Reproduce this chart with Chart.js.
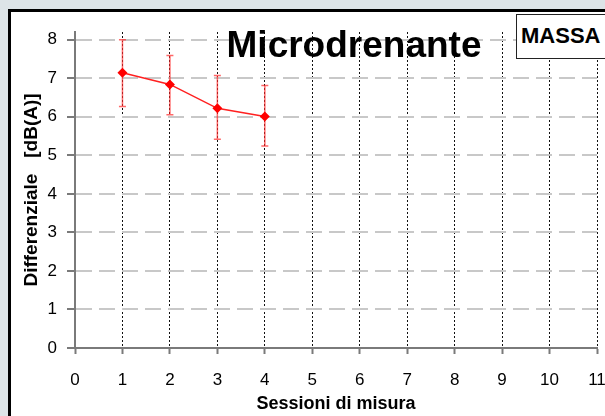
<!DOCTYPE html>
<html>
<head>
<meta charset="utf-8">
<script src="https://cdn.jsdelivr.net/npm/chart.js@4"></script>
<style>
  html, body { margin: 0; padding: 0; }
  body {
    width: 605px; height: 416px; overflow: hidden; position: relative;
    background: #dde4e7;
    font-family: 'Liberation Sans', Arial, sans-serif;
  }
  .panel {
    position: absolute; left: 8px; top: 9px; width: 700px; height: 500px;
    border: 3px solid #000; background: #fff;
  }
  #wrap { position: absolute; left: 0; top: 0; width: 605px; height: 416px; z-index: 1; }
  .titolo {
    position: absolute; left: 154px; top: 26px; width: 400px; z-index: 2;
    text-align: center; font-weight: bold; font-size: 37px; line-height: 37px; color: #000;
  }
  .massa {
    position: absolute; left: 516px; top: 14px; width: 120px; height: 43px; z-index: 2;
    border: 1px solid #222; background: #fff;
  }
  .massa span {
    position: absolute; left: 4px; top: 10px;
    font-weight: bold; font-size: 22px; line-height: 22px; color: #000;
  }
</style>
</head>
<body>
<div class="panel"></div>
<div id="wrap"><canvas id="grafico" width="605" height="416"></canvas></div>
<div class="titolo">Microdrenante</div>
<div class="massa"><span>MASSA</span></div>
<script>
'use strict';

// sessioni e differenziale medio con estremi della barra d'errore
var sessioni = [1, 2, 3, 4];
var differenziale = [7.14, 6.84, 6.22, 6.01];
var errSup = [8.00, 7.59, 7.07, 6.81];
var errInf = [6.27, 6.05, 5.42, 5.24];

var xTicks = [0, 1, 2, 3, 4, 5, 6, 7, 8, 9, 10, 11];
var yMax = 8.2;

var FONT = "'Liberation Sans', Arial, sans-serif";

// barre d'errore verticali con cappelletti, sotto i marker
var errorBars = {
  id: 'errorBars',
  beforeDatasetsDraw: function (chart) {
    var ctx = chart.ctx;
    var x = chart.scales.x, y = chart.scales.y;
    ctx.save();
    ctx.strokeStyle = 'rgba(255, 40, 40, 0.7)';
    ctx.lineWidth = 1.5;
    sessioni.forEach(function (s, i) {
      var px = x.getPixelForValue(s);
      var top = y.getPixelForValue(errSup[i]);
      var bot = y.getPixelForValue(errInf[i]);
      ctx.beginPath();
      ctx.moveTo(px, top); ctx.lineTo(px, bot);
      ctx.moveTo(px - 3.5, top); ctx.lineTo(px + 3.5, top);
      ctx.moveTo(px - 3.5, bot); ctx.lineTo(px + 3.5, bot);
      ctx.stroke();
    });
    ctx.restore();
  }
};

function isInt(v) { return Math.abs(v - Math.round(v)) < 1e-6; }

new Chart(document.getElementById('grafico').getContext('2d'), {
  type: 'line',
  data: {
    datasets: [{
      data: sessioni.map(function (s, i) { return { x: s, y: differenziale[i] }; }),
      borderColor: '#ff2020',
      borderWidth: 1.5,
      backgroundColor: '#ff0000',
      pointStyle: 'rectRot',
      pointRadius: 5,
      pointBorderWidth: 0,
      pointBackgroundColor: '#ff0000',
      tension: 0
    }]
  },
  options: {
    responsive: false,
    animation: false,
    layout: { padding: { left: 0, top: 32, right: 8, bottom: 0 } },
    plugins: { legend: { display: false }, tooltip: { enabled: false } },
    scales: {
      x: {
        type: 'linear',
        min: 0,
        max: 11,
        afterBuildTicks: function (scale) {
          scale.ticks = xTicks.map(function (v) { return { value: v }; });
        },
        afterFit: function (scale) {
          scale.height = 68;
          // l'etichetta "11" può uscire dal bordo destro
          scale.paddingLeft = 0;
          scale.paddingRight = 0;
        },
        ticks: {
          color: '#000',
          padding: 16,
          font: { family: FONT, size: 17 }
        },
        grid: {
          color: function (c) { return c.tick && c.tick.value === 0 ? 'rgba(0,0,0,0)' : '#111'; },
          lineWidth: 1,
          tickLength: 6,
          tickColor: '#7a7a7a',
          tickWidth: 2,
          tickBorderDash: []
        },
        border: { display: true, color: '#7a7a7a', width: 2, dash: [2, 2] },
        title: {
          display: true,
          text: 'Sessioni di misura',
          color: '#000',
          font: { family: FONT, size: 18, weight: 'bold' },
          padding: { top: 0, bottom: 1 }
        }
      },
      y: {
        type: 'linear',
        min: 0,
        max: yMax,
        ticks: {
          stepSize: 0.5,
          includeBounds: false,
          color: '#000',
          padding: 10,
          font: { family: FONT, size: 17 },
          callback: function (v) { return isInt(v) ? String(v) : ''; }
        },
        afterFit: function (scale) { scale.width = 75; },
        grid: {
          color: function (c) {
            if (!c.tick) return '#c8c8c8';
            if (c.tick.value === 0) return 'rgba(0,0,0,0)';
            return isInt(c.tick.value) ? '#c8c8c8' : '#b8b8b8';
          },
          lineWidth: function (c) { return c.tick && isInt(c.tick.value) ? 2 : 1; },
          tickLength: 8,
          tickColor: function (c) { return c.tick && isInt(c.tick.value) ? '#7a7a7a' : 'rgba(0,0,0,0)'; },
          tickWidth: 2,
          tickBorderDash: []
        },
        border: {
          display: true,
          color: '#7a7a7a',
          width: 2,
          dash: function (c) {
            if (!c.tick) return [];
            return isInt(c.tick.value) ? [16, 7] : [3, 3];
          }
        },
        title: {
          display: true,
          text: 'Differenziale   [dB(A)]',
          color: '#000',
          font: { family: FONT, size: 19, weight: 'bold' },
          padding: { top: 20, bottom: 0 }
        }
      }
    }
  },
  plugins: [errorBars]
});
</script>
</body>
</html>
